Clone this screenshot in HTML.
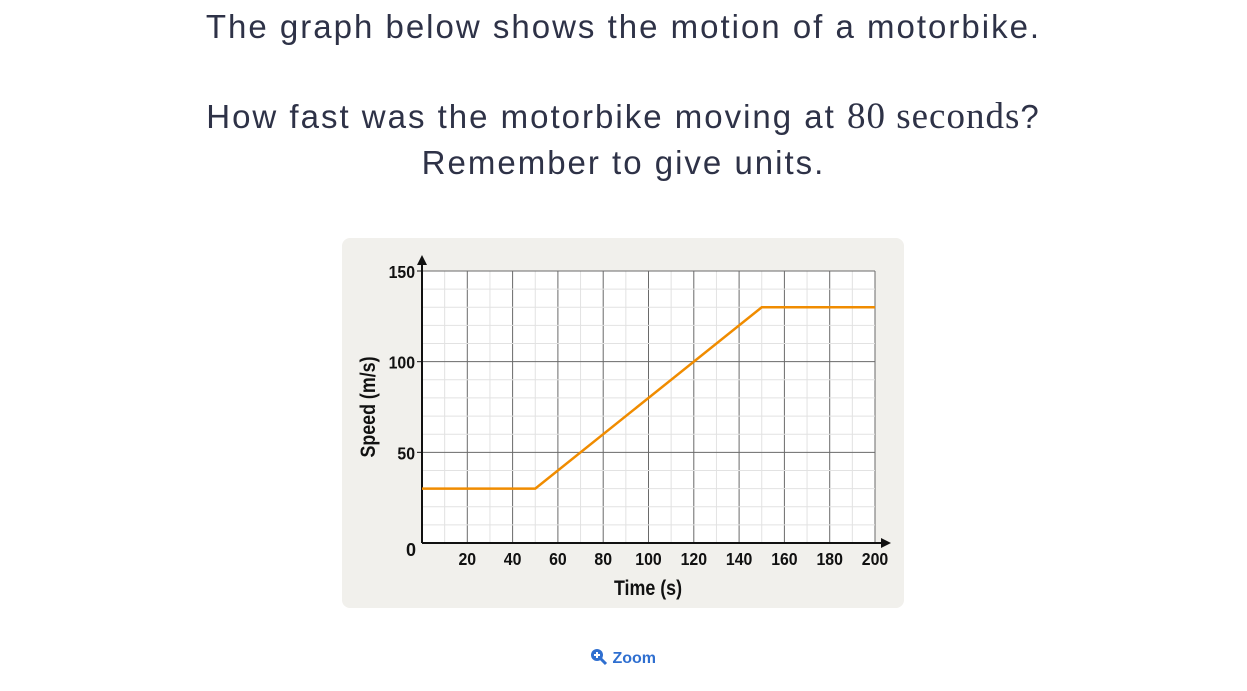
<!DOCTYPE html>
<html><head><meta charset="utf-8"><style>
body{margin:0;width:1247px;height:691px;background:#fff;font-family:"Liberation Sans",sans-serif;color:#2e3247;position:relative;overflow:hidden}
.t{position:absolute;left:0;width:1247px;text-align:center;font-size:33px;line-height:40px;letter-spacing:2px}
.serif{font-family:"Liberation Serif",serif;font-size:37px;letter-spacing:1px}
#card{position:absolute;left:342px;top:238px;width:562px;height:370px;background:#f1f0ec;border-radius:8px}
#zoom{position:absolute;left:590px;top:648px;font-size:16px;font-weight:bold;color:#2f6fd0}
</style></head><body>
<div class="t" style="top:7px">The graph below shows the motion of a motorbike.</div>
<div class="t" style="top:97px">How fast was the motorbike moving at <span class="serif">80 seconds</span>?</div>
<div class="t" style="top:143px">Remember to give units.</div>
<div id="card"></div>
<svg id="chart" width="1247" height="691" style="position:absolute;left:0;top:0"></svg>
<div id="zoom"><svg width="18" height="18" viewBox="0 0 18 18" style="vertical-align:-3px"><circle cx="7" cy="7" r="6" fill="#2f6fd0"/><path d="M4 7h6M7 4v6" stroke="#fff" stroke-width="2"/><path d="M11 11l5 5" stroke="#2f6fd0" stroke-width="3"/></svg> Zoom</div>
<script>
const xTicks=[20,40,60,80,100,120,140,160,180,200];
const yTicks=[50,100,150];
const times=[0,50,150,200];
const speeds=[30,30,130,130];
const NS="http://www.w3.org/2000/svg";
const svg=document.getElementById('chart');
const X0=422,X1=875,Y0=543,Y1=271;
const xs=v=>X0+(X1-X0)*v/200, ys=v=>Y0-(Y0-Y1)*v/150;
function el(t,a){const e=document.createElementNS(NS,t);for(const k in a)e.setAttribute(k,a[k]);svg.appendChild(e);return e;}
const bg=el('rect',{x:X0,y:Y1,width:X1-X0,height:Y0-Y1,fill:'#fff'});


for(let v=10;v<=200;v+=10){const g=el('line',{x1:xs(v),x2:xs(v),y1:Y1,y2:Y0,stroke:v%20?'#e2e2e2':'#6a6a6a','stroke-width':1});

}
for(let v=10;v<=150;v+=10){const g=el('line',{x1:X0,x2:X1,y1:ys(v),y2:ys(v),stroke:v%50?'#e2e2e2':'#6a6a6a','stroke-width':1});

}
const ax=el('path',{d:`M${X0} ${Y0}H${X1+10}M${X0} ${Y0}V${Y1-10}`,stroke:'#111','stroke-width':2,fill:'none'});


el('path',{d:`M${X1+16} ${Y0}l-10 -5v10z M${X0} ${Y1-16}l-5 10h10z`,fill:'#111'});
const ff='"Liberation Sans Narrow","Liberation Sans",sans-serif';
xTicks.forEach(v=>{const t=el('text',{x:xs(v),y:565,'text-anchor':'middle','font-family':ff,'font-weight':'bold','font-size':18,fill:'#111',transform:`translate(${xs(v)*0.12} 0) scale(0.88 1)`});t.textContent=v;

});
yTicks.forEach(v=>{el('line',{x1:X0-5,x2:X0,y1:ys(v),y2:ys(v),stroke:'#111'});const t=el('text',{x:X0-7,y:ys(v)+7,'text-anchor':'end','font-family':ff,'font-weight':'bold','font-size':18,fill:'#111',transform:`translate(${(X0-7)*0.12} 0) scale(0.88 1)`});t.textContent=v;

});
const z=el('text',{x:X0-6,y:556,'text-anchor':'end','font-family':ff,'font-weight':'bold','font-size':18,fill:'#111'});z.textContent='0';


const xt=el('text',{x:0,y:0,transform:'translate(648,595) scale(0.85 1)','text-anchor':'middle','font-family':ff,'font-weight':'bold','font-size':21,fill:'#111'});xt.textContent='Time (s)';


const yt=el('text',{x:0,y:0,transform:'translate(375,407) rotate(-90) scale(0.85 1)','text-anchor':'middle','font-family':ff,'font-weight':'bold','font-size':21,fill:'#111'});yt.textContent='Speed (m/s)';


const ln=el('polyline',{points:times.map((t,i)=>xs(t)+','+ys(speeds[i])).join(' '),fill:'none',stroke:'#f08c00','stroke-width':2.5});


</script>
</body></html>
